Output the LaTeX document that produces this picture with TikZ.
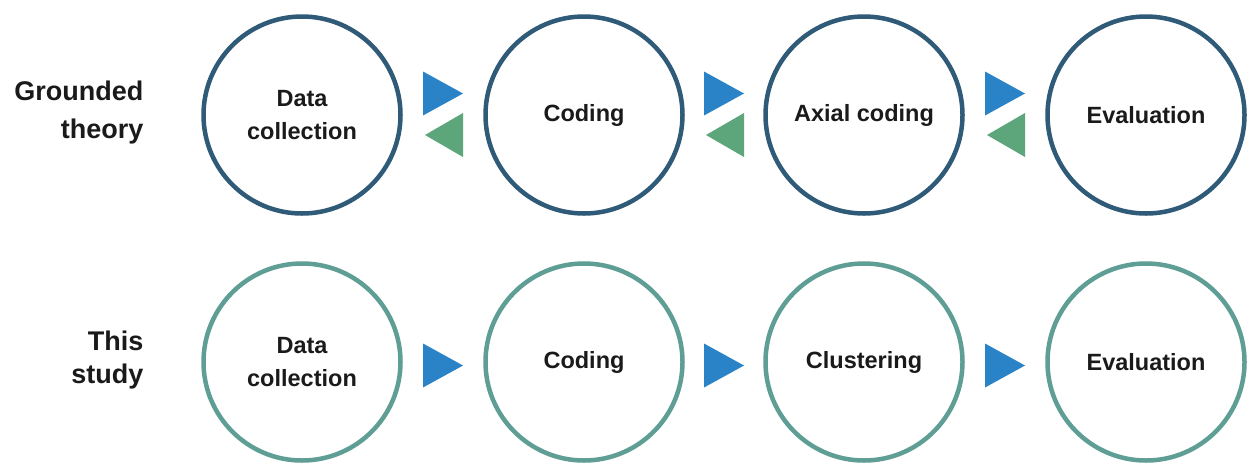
\documentclass[tikz,border=0pt]{standalone}
\usepackage{fontspec}
\setmainfont{Liberation Sans}
\usetikzlibrary{calc}
\definecolor{topc}{HTML}{2F5A78}
\definecolor{botc}{HTML}{5E9E94}
\definecolor{blutri}{HTML}{2A83C6}
\definecolor{grntri}{HTML}{5DA57A}
\definecolor{txt}{HTML}{1A1A1A}
\begin{document}
\begin{tikzpicture}[x=1pt,y=-1pt,
  stage/.style={circle, draw, line width=4.5pt, minimum size=197pt, inner sep=0pt,
    align=center, text=txt, font=\fontsize{23.5}{33}\selectfont\bfseries},
  gt/.style={stage, draw=topc},
  ts/.style={stage, draw=botc},
  rowlabel/.style={align=right, anchor=east, text=txt},
  pics/fwdtri/.style={code={\fill[blutri] (-20,-22) -- (-20,22) -- (20,0) -- cycle;}},
  pics/backtri/.style={code={\fill[grntri] (20,-22) -- (20,22) -- (-18,0) -- cycle;}}]
\useasboundingbox (0,0) rectangle (1249,464);
\fill[white] (0,0) rectangle (1249,464);

% row labels
\node[rowlabel, font=\fontsize{27}{38}\selectfont\bfseries] (lgt) at (147,113) {Grounded\\theory};
\node[rowlabel, font=\fontsize{27}{33}\selectfont\bfseries] (lts) at (147,360) {This\\study};

% grounded theory row
\node[gt] (g1) at (302,115) {Data\\collection};
\node[gt] (g2) at (584,115) {Coding};
\node[gt] (g3) at (864,115) {Axial coding};
\node[gt] (g4) at (1146,115) {Evaluation};

% this study row
\node[ts] (s1) at (302,362) {Data\\collection};
\node[ts] (s2) at (584,362) {Coding};
\node[ts] (s3) at (864,362) {Clustering};
\node[ts] (s4) at (1146,362) {Evaluation};

% gap midpoints
\coordinate (gm1) at ($(g1.east)!.5!(g2.west)$);
\coordinate (gm2) at ($(g2.east)!.5!(g3.west)$);
\coordinate (gm3) at ($(g3.east)!.5!(g4.west)$);
\coordinate (sm1) at ($(s1.east)!.5!(s2.west)$);
\coordinate (sm2) at ($(s2.east)!.5!(s3.west)$);
\coordinate (sm3) at ($(s3.east)!.5!(s4.west)$);

\foreach \m in {gm1,gm2,gm3}{
  \pic at ($(\m)+(0,-21.5)$) {fwdtri};
  \pic at ($(\m)+(0,20)$) {backtri};
}
\foreach \m in {sm1,sm2,sm3}{
  \pic at ($(\m)+(0,3.5)$) {fwdtri};
}
\end{tikzpicture}
\end{document}
